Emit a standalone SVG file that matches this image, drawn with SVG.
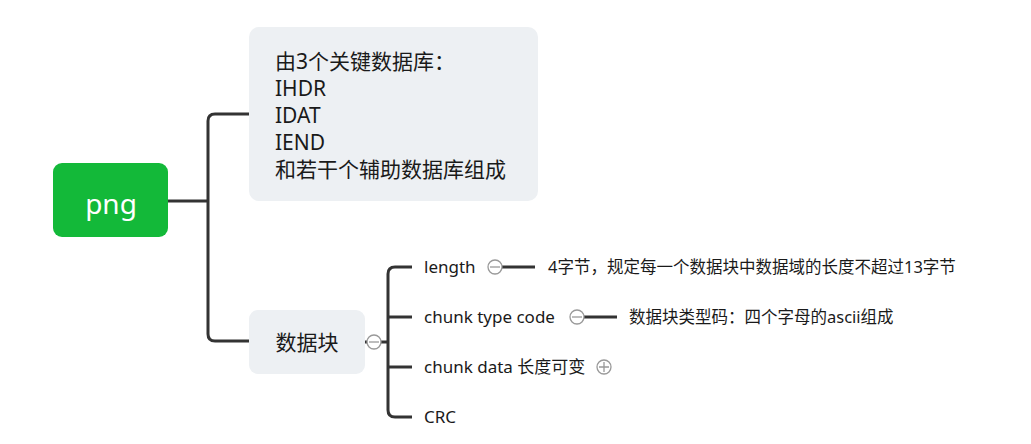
<svg xmlns="http://www.w3.org/2000/svg" width="1031" height="444" viewBox="0 0 1031 444">
<style>
.t{font-family:"Noto Sans","Noto Sans CJK SC",sans-serif;fill:#1a1a1a}
.big{font-size:21px}
.mid{font-size:16.5px}
.lab{font-size:17px}
.ln{fill:none;stroke:#333;stroke-width:3;stroke-linecap:butt}
.btn{fill:#fff;stroke:#999;stroke-width:1.3}
.bl{stroke:#999;stroke-width:1.3}
</style>
<rect width="1031" height="444" fill="#fff"/>
<g id="connectors">
<path class="ln" d="M168,201 H208"/>
<path class="ln" d="M249,114 H215 Q208,114 208,121 V334 Q208,341 215,341 H249"/>
<path class="ln" d="M365,342 H388"/>
<path class="ln" d="M412,267 H395 Q388,267 388,274 V410 Q388,417 395,417 H412"/>
<path class="ln" d="M388,317 H412"/>
<path class="ln" d="M388,367 H412"/>
<path class="ln" d="M502,267 H535"/>
<path class="ln" d="M584,317 H617"/>
</g>
<g id="png">
<rect x="53" y="163" width="115" height="74" rx="9" fill="#13b939"/>
<text x="111" y="214" text-anchor="middle" font-family="Noto Sans, sans-serif" font-size="28" fill="#fff">png</text>
</g>
<g id="n1">
<rect x="249" y="27" width="289" height="174" rx="10" fill="#edf0f3"/>
<text class="t big" x="275" y="69">由3个关键数据库：</text>
<text class="t big" x="275" y="96">IHDR</text>
<text class="t big" x="275" y="123">IDAT</text>
<text class="t big" x="275" y="150">IEND</text>
<text class="t big" x="275" y="177">和若干个辅助数据库组成</text>
</g>
<g id="n2">
<rect x="249" y="310" width="116" height="64" rx="9" fill="#edf0f3"/>
<text class="t big" x="307" y="350" text-anchor="middle">数据块</text>
<circle class="btn" cx="374" cy="342" r="7"/>
<path class="bl" d="M369,342 H379"/>
</g>
<g id="length">
<text class="t lab" x="424" y="273">length</text>
<circle class="btn" cx="495" cy="267" r="7"/>
<path class="bl" d="M490,267 H500"/>
</g>
<g id="length-desc">
<text class="t mid" x="548" y="273">4字节，规定每一个数据块中数据域的长度不超过13字节</text>
</g>
<g id="chunktype">
<text class="t lab" x="424" y="323">chunk type code</text>
<circle class="btn" cx="577" cy="317" r="7"/>
<path class="bl" d="M572,317 H582"/>
</g>
<g id="chunktype-desc">
<text class="t mid" x="629" y="323">数据块类型码：四个字母的ascii组成</text>
</g>
<g id="chunkdata">
<text class="t lab" x="424" y="373">chunk data 长度可变</text>
<circle class="btn" cx="604" cy="367" r="7"/>
<path class="bl" d="M599,367 H609 M604,362 V372"/>
</g>
<g id="crc">
<text class="t lab" x="424" y="423">CRC</text>
</g>
</svg>
